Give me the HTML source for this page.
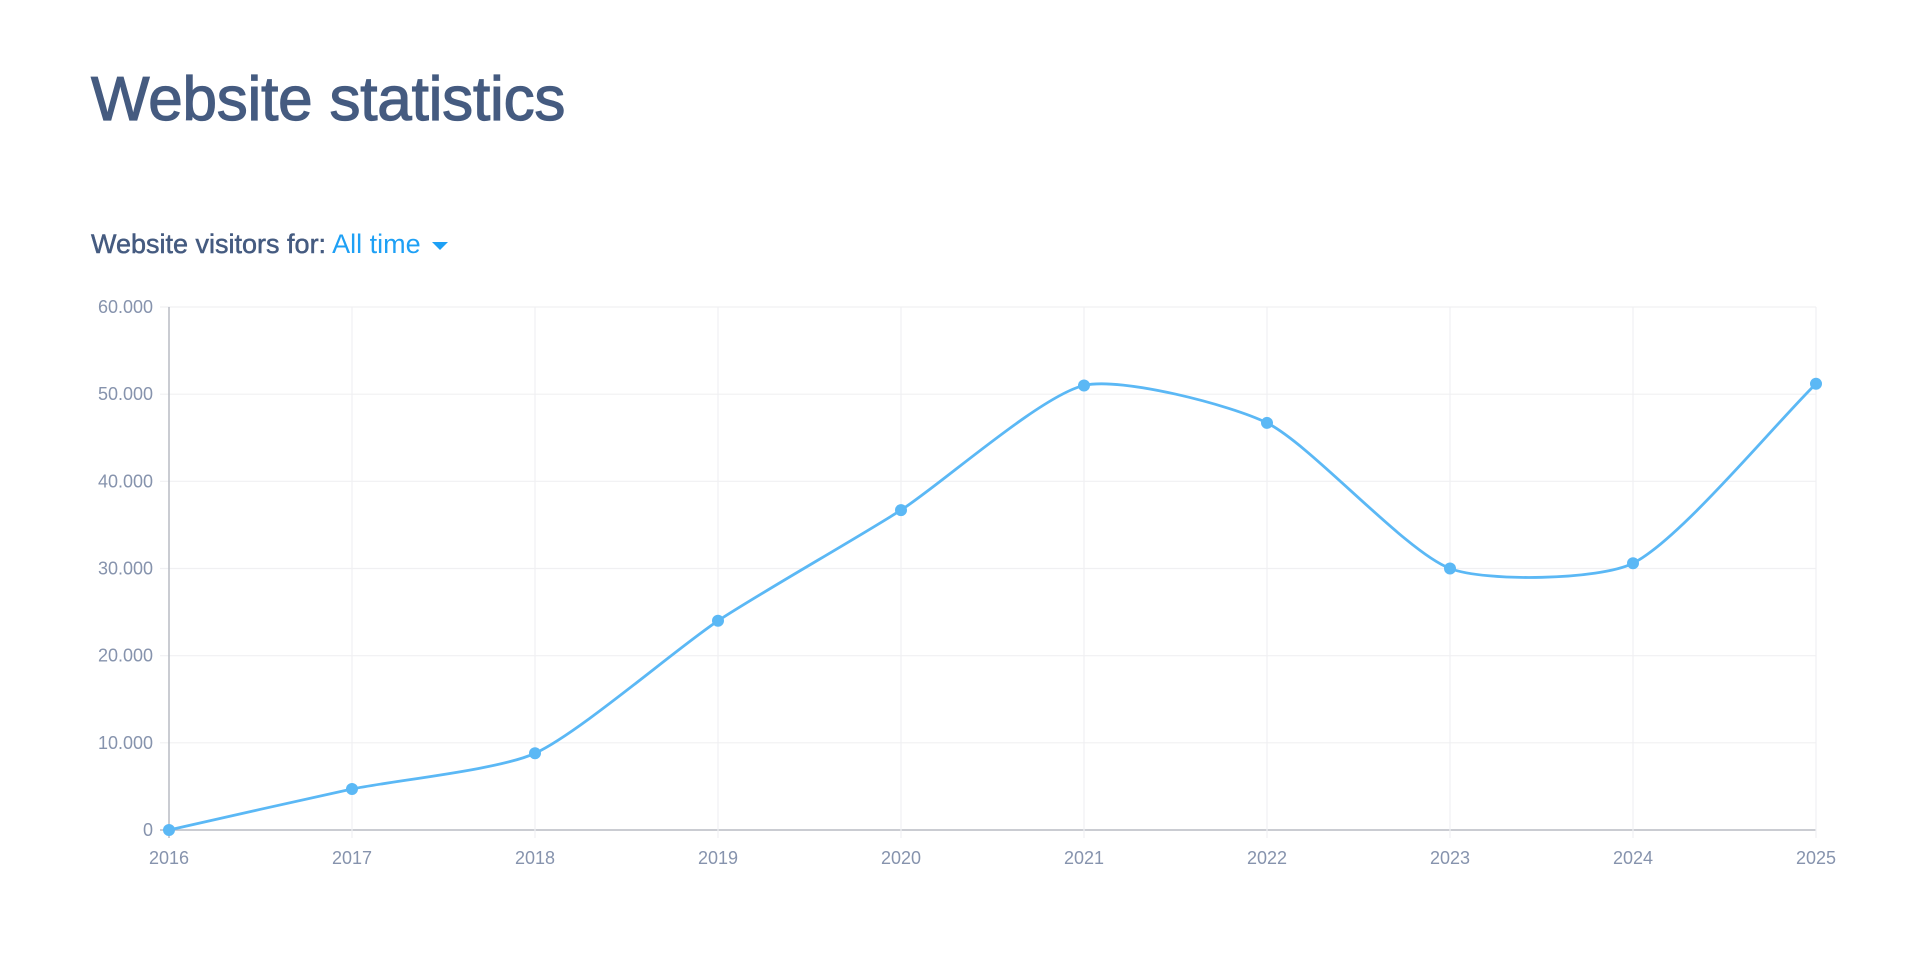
<!DOCTYPE html>
<html><head><meta charset="utf-8"><style>
body{margin:0;width:1920px;height:956px;background:#fff;font-family:"Liberation Sans",sans-serif;overflow:hidden;position:relative}
h1{position:absolute;left:91px;top:64px;margin:0;font-size:62px;font-weight:normal;color:#455b80;letter-spacing:-0.2px;-webkit-text-stroke:1.2px #455b80}
.sub{position:absolute;left:91px;top:229px;font-size:27px;color:#455b80;white-space:nowrap}
.sub b{font-weight:normal;-webkit-text-stroke:0.5px #455b80}
.sub span{color:#1ea0f5}
#c{position:absolute;left:0;top:0}
</style></head><body>
<h1>Website statistics</h1>
<div class="sub"><b>Website visitors for:</b> <span>All time</span> <svg style="display:inline-block;vertical-align:middle;margin-left:3px" width="18" height="10"><polygon points="1,1 17,1 9,9" fill="#1ea0f5"/></svg></div>
<svg id="c" width="1920" height="956"></svg>
<script>
(function(){
const s=document.getElementById('c');const NS='http://www.w3.org/2000/svg';
function el(t,a,txt){const e=document.createElementNS(NS,t);for(const k in a)e.setAttribute(k,a[k]);if(txt!==undefined)e.textContent=txt;s.appendChild(e);return e;}
const x0=169,dx=183,y0=830,yt=307;
const Y=v=>y0-(y0-yt)*v/60000;
for(let i=0;i<=6;i++){const y=Y(i*10000);
 el('line',{x1:160,x2:1816,y1:y,y2:y,stroke:i?'#f0f0f2':'#b8bcc4','stroke-width':i?1.2:1.5});
 el('text',{x:153,y:y+6,'text-anchor':'end','font-size':18,fill:'#8693ad','font-family':'Liberation Sans'},i?(i*10)+'.000':'0');}
for(let i=0;i<10;i++){const x=x0+i*dx;
 el('line',{x1:x,x2:x,y1:yt,y2:y0+8,stroke:i?'#f0f0f2':'#b8bcc4','stroke-width':i?1.2:1.5});
 el('text',{x:x,y:y0+34,'text-anchor':'middle','font-size':18,fill:'#8693ad','font-family':'Liberation Sans'},2016+i);}
const v=[0,4700,8800,24000,36700,51000,46700,30000,30600,51200];
const P=v.map((d,i)=>[x0+i*dx,Y(d)]);
const t=0.22;let d='M'+P[0][0]+','+P[0][1];
const cp=[];
for(let i=0;i<P.length;i++){const p=P[i-1]||P[i],c=P[i],n=P[i+1]||P[i];
 const d01=Math.hypot(c[0]-p[0],c[1]-p[1]),d12=Math.hypot(n[0]-c[0],n[1]-c[1]);
 let fa=d01/(d01+d12)||0,fb=d12/(d01+d12)||0;fa*=t;fb*=t;
 cp.push({p:[c[0]-fa*(n[0]-p[0]),c[1]-fa*(n[1]-p[1])],n:[c[0]+fb*(n[0]-p[0]),c[1]+fb*(n[1]-p[1])]});}
for(let i=1;i<P.length;i++){d+=' C'+cp[i-1].n.join(',')+' '+cp[i].p.join(',')+' '+P[i].join(',');}
el('path',{d:d,fill:'none',stroke:'#5bb8f5','stroke-width':2.8});
P.forEach(p=>el('circle',{cx:p[0],cy:p[1],r:6,fill:'#5bb8f5'}));
})();
</script>
</body></html>
